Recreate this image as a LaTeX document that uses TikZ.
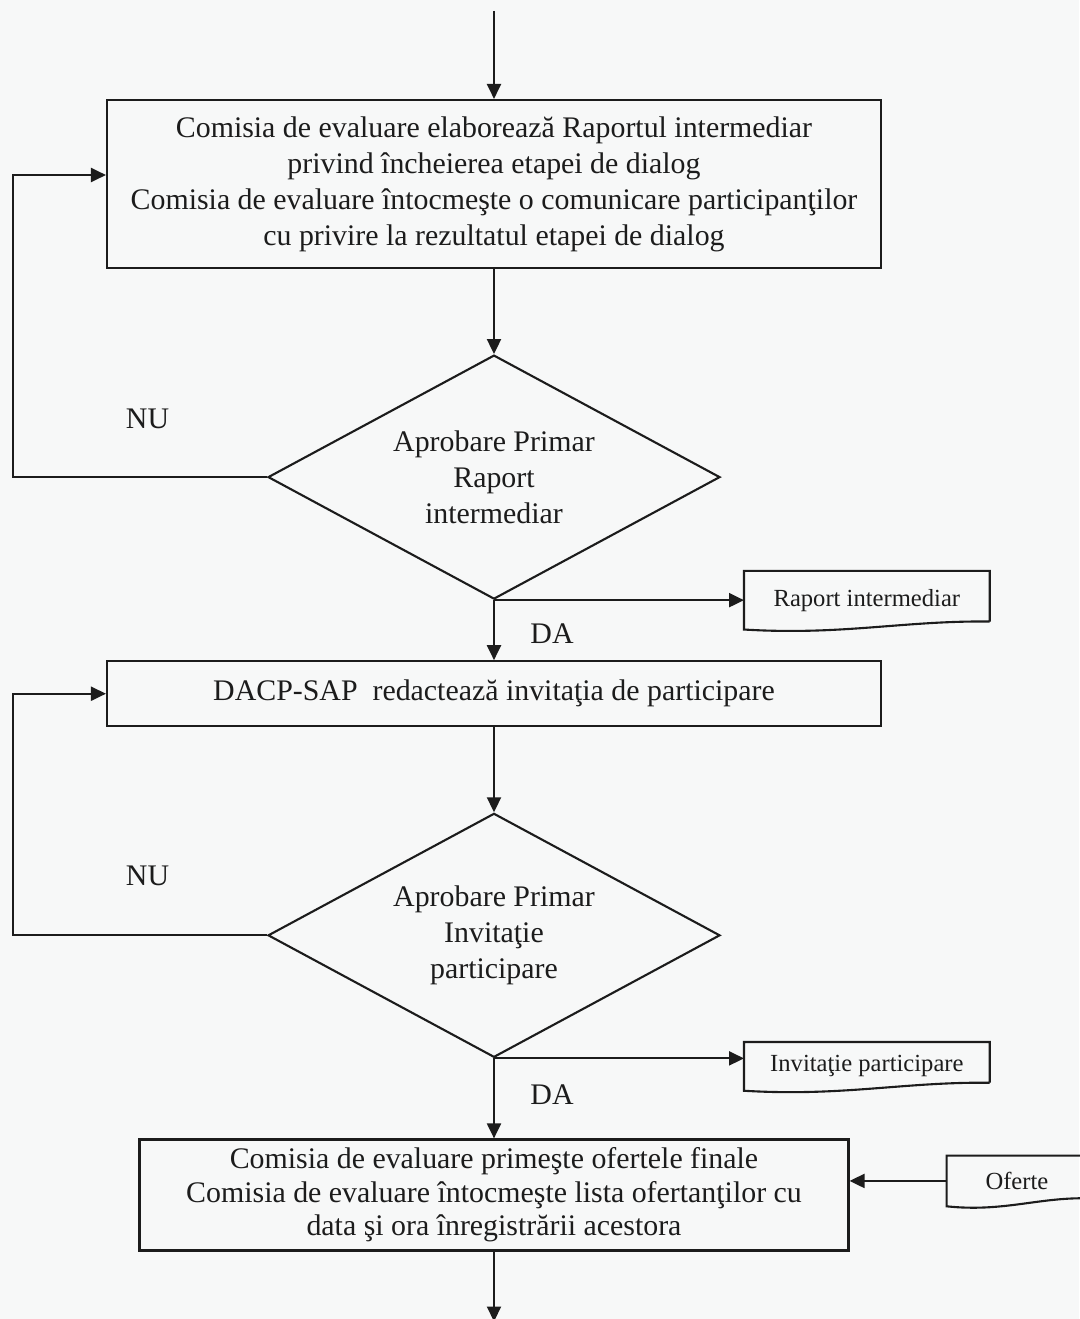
\documentclass[tikz,border=0pt]{standalone}
\usepackage{fontspec}
\setmainfont{Liberation Serif}
\usepackage{xcolor}
\definecolor{ink}{HTML}{1C1C1C}
\definecolor{paper}{HTML}{F7F8F8}
\usepackage{tikz}
\usetikzlibrary{arrows.meta,positioning,calc,shapes.geometric}
\tikzset{
    step_box/.style={draw=ink, line width=1.2pt, align=center, text=ink, font=\fontsize{17}{20.5}\selectfont, inner sep=4pt, minimum width=15.48cm},
    decision/.style={diamond, aspect=1.85, draw=ink, line width=1.2pt, align=center, text=ink, font=\fontsize{17}{20.5}\selectfont, inner sep=0pt, minimum width=9.04cm, minimum height=4.88cm},
    doc_box/.style={align=center, text=ink, font=\fontsize{14}{16}\selectfont, inner sep=0pt, minimum width=4.9cm, minimum height=1.16cm},
    flow/.style={-{Triangle[length=3mm,width=2.8mm]}, line width=1.2pt, draw=ink},
    answer/.style={text=ink, font=\fontsize{17}{20}\selectfont, inner sep=0pt}
}
% document symbol: flat top, wavy bottom
\newcommand{\docoutline}[1]{%
  \draw[ink, line width=1.2pt] ([yshift=0.16cm]#1.south east) -- (#1.north east) -- (#1.north west) -- (#1.south west)
    .. controls ($(#1.south west)!0.4!(#1.south east)+(0,-0.12)$) and ($(#1.south west)!0.65!(#1.south east)+(0,0.18)$) .. ([yshift=0.16cm]#1.south east);}

\begin{document}
\begin{tikzpicture}

  % page
  \fill[paper] (0,0) rectangle (21.58,-26.38);
  \useasboundingbox (0,0) rectangle (21.58,-26.38);

  % Intermediate report
  \node[step_box, minimum height=3.36cm] (raport) at (9.88,-3.68) {Comisia de evaluare elaborează Raportul intermediar\\privind încheierea etapei de dialog\\Comisia de evaluare întocmeşte o comunicare participanţilor\\cu privire la rezultatul etapei de dialog};
  \node[decision, below=1.7cm of raport] (aprob_raport) {Aprobare Primar\\Raport\\intermediar};

  % Invitation
  \node[step_box, minimum height=1.3cm, below=1.2cm of aprob_raport] (invitatie) {DACP-SAP~~redactează invitaţia de participare};
  \node[decision, below=1.7cm of invitatie] (aprob_invit) {Aprobare Primar\\Invitaţie\\participare};

  % Final offers
  \node[step_box, font=\fontsize{17}{19}\selectfont, minimum width=14.18cm, minimum height=2.22cm, below=1.6cm of aprob_invit] (oferte_finale) {Comisia de evaluare primeşte ofertele finale\\Comisia de evaluare întocmeşte lista ofertanţilor cu\\data şi ora înregistrării acestora};

  % Documents
  \node[doc_box, right=5cm of aprob_raport.south] (doc_raport) {Raport intermediar};
  \node[doc_box, minimum height=0.96cm, right=5cm of aprob_invit.south, yshift=-0.16cm] (doc_invit) {Invitaţie participare};
  \node[doc_box, minimum width=2.8cm, minimum height=1.0cm, right=1.94cm of oferte_finale.east, yshift=0.28cm] (doc_oferte) {Oferte};
  \docoutline{doc_raport}
  \docoutline{doc_invit}
  \docoutline{doc_oferte}

  % Entry and exit
  \coordinate (start) at ([yshift=1.76cm]raport.north);
  \coordinate (stop) at ([yshift=-1.4cm]oferte_finale.south);
  \draw[flow] (start) -- (raport.north);
  \draw[flow] (oferte_finale.south) -- (stop);

  % Main flow
  \draw[flow] (raport.south) -- (aprob_raport.north);
  \draw[flow] (aprob_raport.south) -- (invitatie.north);
  \draw[flow] (invitatie.south) -- (aprob_invit.north);
  \draw[flow] (aprob_invit.south) -- (oferte_finale.north);

  % Rejection loops
  \draw[flow] (aprob_raport.west) -| ([xshift=-1.86cm,yshift=0.18cm]raport.west) -- ([yshift=0.18cm]raport.west);
  \draw[flow] (aprob_invit.west) -| ([xshift=-1.86cm]invitatie.west) -- (invitatie.west);

  % Outputs and inputs
  \draw[flow] (aprob_raport.south) -- (doc_raport.west);
  \draw[flow] (aprob_invit.south) -- (aprob_invit.south -| doc_invit.west);
  \draw[flow] (doc_oferte.west) -- (doc_oferte.west -| oferte_finale.east);

  % Answers
  \node[answer, left=1.95cm of aprob_raport.west, yshift=1.16cm] (nu_raport) {NU};
  \node[answer, left=1.95cm of aprob_invit.west, yshift=1.18cm] (nu_invit) {NU};
  \node[answer] (da_raport) at ([xshift=1.16cm,yshift=-0.66cm]aprob_raport.south) {DA};
  \node[answer] (da_invit) at ([xshift=1.16cm,yshift=-0.72cm]aprob_invit.south) {DA};

\end{tikzpicture}
\end{document}
